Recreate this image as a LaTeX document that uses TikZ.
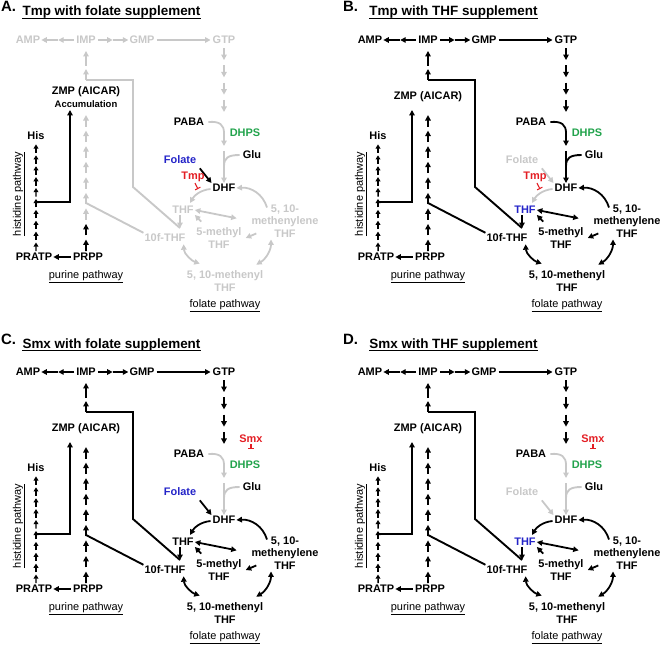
\documentclass[tikz,border=0pt]{standalone}
\usepackage{fontspec}
\setmainfont{Liberation Sans}
\usetikzlibrary{arrows.meta,calc}
\definecolor{cGrey}{HTML}{C8C8C8}
\definecolor{cBlue}{HTML}{2424C8}
\definecolor{cRed}{HTML}{E31E24}
\definecolor{cGreen}{HTML}{22A34C}
\tikzset{
  met/.style={font=\bfseries\fontsize{11}{12.5}\selectfont, inner sep=1pt, align=center},
  tag/.style={font=\fontsize{11}{12.5}\selectfont, inner sep=1pt},
  ttl/.style={font=\bfseries\fontsize{13.5}{15}\selectfont, inner sep=0pt, anchor=base},
  letter/.style={font=\bfseries\fontsize{15}{17}\selectfont, inner sep=0pt, anchor=base west},
  arr/.style={-{Triangle[length=5.5pt,width=5.5pt]}, line width=1.8pt},
  darr/.style={{Triangle[length=5.5pt,width=5.5pt]}-{Triangle[length=5.5pt,width=5.5pt]}, line width=1.8pt},
  harr/.style={-{Triangle[length=4.2pt,width=4.8pt]}, line width=1.5pt},
  link/.style={line width=1.9pt},
  inh/.style={-{Bar[width=6pt]}, line width=1.1pt, draw=cRed},
}
% one panel: #1 prefix, #2 letter, #3 title, #4 ZMP label
\newcommand{\pathpanel}[4]{%
  \node[letter] (#1-let) at (1,12) {#2.};
  \node[ttl] (#1-ttl) at (111.5,16) {#3};
  \draw[line width=1.1pt] ($(#1-ttl.base west)+(0,2.2)$) -- ($(#1-ttl.base east)+(0,2.2)$);
  % ---- purine / histidine nodes
  \node[met, text=cPur] (#1-amp) at (28,40) {AMP};
  \node[met, text=cPur] (#1-imp) at (86,40) {IMP};
  \node[met, text=cPur] (#1-gmp) at (142,40) {GMP};
  \node[met, text=cPur] (#1-gtp) at (224,40) {GTP};
  \node[met] (#1-zmp) at (86,97) {#4};
  \node[met] (#1-his) at (36,136) {His};
  \node[met] (#1-pratp) at (34,257) {PRATP};
  \node[met] (#1-prpp) at (88,257) {PRPP};
  \node[tag] (#1-purl) at (86,277) {\underline{purine pathway}};
  \node[tag, rotate=90] (#1-hisl) at (19,194) {\underline{histidine pathway}};
  % ---- folate nodes
  \node[met] (#1-paba) at (189,122) {PABA};
  \node[met, text=cGreen] (#1-dhps) at (245,133) {DHPS};
  \node[met] (#1-glu) at (252,155) {Glu};
  \node[met, text=cFolTxt] (#1-fol) at (180,160) {Folate};
  \node[met] (#1-dhf) at (224,188) {DHF};
  \node[met, text=cThf] (#1-thf) at (183,210) {THF};
  \node[met, text=cCyc] (#1-mthf) at (219,238) {5-methyl\\THF};
  \node[met, text=cCyc] (#1-mlthf) at (285,221) {5, 10-\\methenylene\\THF};
  \node[met, text=cCyc] (#1-fthf) at (165,238) {10f-THF};
  \node[met, text=cCyc] (#1-mnthf) at (225,281) {5, 10-methenyl\\THF};
  \node[tag] (#1-foll) at (225,306) {\underline{folate pathway}};
  % ---- purine row
  \coordinate (#1-ia) at ($(#1-imp.west)!.5!(#1-amp.east)$);
  \coordinate (#1-ig) at ($(#1-imp.east)!.5!(#1-gmp.west)$);
  \draw[arr, cPur, shorten <=1pt] (#1-imp.west) -- (#1-ia);
  \draw[arr, cPur] (#1-ia) -- (#1-amp.east);
  \draw[arr, cPur, shorten <=1pt] (#1-imp.east) -- (#1-ig);
  \draw[arr, cPur] (#1-ig) -- (#1-gmp.west);
  \draw[arr, cPur, shorten <=1pt, shorten >=1pt] (#1-gmp) -- (#1-gtp);
  % ---- purine column
  \coordinate (#1-jt) at (86,80);
  \draw[arr, cPur] (#1-jt) -- ++(0,-11);
  \draw[arr, cPur] ($(#1-jt)+(0,-14)$) -- ($(#1-imp.south)+(0,6)$);
  \coordinate (#1-pb) at (86,251);
  \coordinate (#1-pt) at (86,111);
  \foreach \k in {0,1}
    \draw[arr] ($(#1-pb)!{\k/9}!(#1-pt)$) -- ($(#1-pb)!{(\k+0.74)/9}!(#1-pt)$);
  \foreach \k in {2,...,8}
    \draw[arr, cPur] ($(#1-pb)!{\k/9}!(#1-pt)$) -- ($(#1-pb)!{(\k+0.74)/9}!(#1-pt)$);
  % ---- histidine column
  \coordinate (#1-hb) at (36,251);
  \coordinate (#1-ht) at (36,142);
  \foreach \k in {0,...,9}
    \draw[harr] ($(#1-hb)!{\k/10}!(#1-ht)$) -- ($(#1-hb)!{(\k+0.78)/10}!(#1-ht)$);
  \draw[arr, shorten <=1pt] (#1-prpp.west) -- (#1-pratp.east);
  \coordinate (#1-hj) at (36,202);
  \coordinate (#1-zb) at (70,110);
  \draw[arr] (#1-hj) -| (#1-zb);
  % ---- formyl links
  \coordinate (#1-ft) at (180,228);
  \draw[link, cPur] (#1-jt) -| (133,187) -- (#1-ft);
  \coordinate (#1-pj) at (86,203);
  \draw[link, cPur] (#1-fthf.north west) -- (#1-pj);
  % ---- GTP to DHF
  \foreach \k in {0,...,3}
    \draw[arr, cPur] ($(#1-gtp.south)+(0,3+17.3*\k)$) -- ++(0,12);
  \draw[arr, cDhps] ($(#1-paba.east)+(3,0)$) .. controls (220,121) and (224,125) .. (224,133) -- (224,146);
  \draw[arr, cDhps] (224,151) -- (#1-dhf.north);
  \draw[link, cDhps] ($(#1-glu.west)+(-2,0)$) .. controls (228,155) and (224,158) .. (224,166);
  \draw[arr, cFolArr, shorten <=4pt] (#1-fol.south east) -- (#1-dhf.north west);
  % ---- folate cycle
  \draw[arr, cDhfr] ($(#1-dhf.west)+(-1,1)$) .. controls (200,190) and (194,196) .. (190,203);
  \draw[arr, cCyc] ($(#1-mlthf.north)+(-18,4)$) .. controls (263,194) and (251,187) .. (#1-dhf.east);
  \draw[darr, cCyc, shorten >=14pt] (#1-thf.east) -- (#1-mlthf.west);
  \draw[arr, cCyc] ($(#1-mthf.north west)+(6,-5)$) -- (#1-thf.south east);
  \draw[arr, cCyc] ($(#1-mlthf.south west)+(6,-5)$) -- ($(#1-mthf.east)+(3,0)$);
  \draw[darr, cCyc] ($(#1-fthf.south east)+(-3,1)$) .. controls (184,254) and (192,261) .. ($(#1-mnthf.north west)+(14,-6)$);
  \draw[darr, cCyc] ($(#1-mnthf.north east)+(-8,-5)$) .. controls (266,259) and (271,250) .. ($(#1-mlthf.south)+(-14,1)$);
  \draw[arr, cCyc] (#1-thf.south -| #1-ft) -- (#1-ft);
}

\begin{document}
\begin{tikzpicture}[x=1bp, y=-1bp]
\useasboundingbox (0,0) rectangle (660,646);

% ========== A: Tmp + folate ==========
\begin{scope}
  \colorlet{cPur}{cGrey}\colorlet{cDhps}{cGrey}\colorlet{cFolTxt}{cBlue}
  \colorlet{cFolArr}{black}\colorlet{cDhfr}{cGrey}\colorlet{cCyc}{cGrey}\colorlet{cThf}{cGrey}
  \pathpanel{a}{A}{Tmp with folate supplement}
    {ZMP (AICAR)\\{\fontsize{9.5}{11}\selectfont Accumulation}}
  \node[met, text=cRed] (a-tmp) at (193,177) {Tmp};
  \draw[inh] ($(a-tmp.south)+(2,0)$) -- (198,189);
\end{scope}

% ========== B: Tmp + THF ==========
\begin{scope}[shift={(342,0)}]
  \colorlet{cPur}{black}\colorlet{cDhps}{black}\colorlet{cFolTxt}{cGrey}
  \colorlet{cFolArr}{cGrey}\colorlet{cDhfr}{cGrey}\colorlet{cCyc}{black}\colorlet{cThf}{cBlue}
  \pathpanel{b}{B}{Tmp with THF supplement}{ZMP (AICAR)}
  \node[met, text=cRed] (b-tmp) at (193,177) {Tmp};
  \draw[inh] ($(b-tmp.south)+(2,0)$) -- (198,189);
\end{scope}

% ========== C: Smx + folate ==========
\begin{scope}[shift={(0,332)}]
  \colorlet{cPur}{black}\colorlet{cDhps}{cGrey}\colorlet{cFolTxt}{cBlue}
  \colorlet{cFolArr}{black}\colorlet{cDhfr}{black}\colorlet{cCyc}{black}\colorlet{cThf}{black}
  \pathpanel{c}{C}{Smx with folate supplement}{ZMP (AICAR)}
  \node[met, text=cRed] (c-smx) at (251,107) {Smx};
  \draw[inh] (c-smx.south) -- ++(0,5);
\end{scope}

% ========== D: Smx + THF ==========
\begin{scope}[shift={(342,332)}]
  \colorlet{cPur}{black}\colorlet{cDhps}{cGrey}\colorlet{cFolTxt}{cGrey}
  \colorlet{cFolArr}{cGrey}\colorlet{cDhfr}{black}\colorlet{cCyc}{black}\colorlet{cThf}{cBlue}
  \pathpanel{d}{D}{Smx with THF supplement}{ZMP (AICAR)}
  \node[met, text=cRed] (d-smx) at (251,107) {Smx};
  \draw[inh] (d-smx.south) -- ++(0,5);
\end{scope}

\end{tikzpicture}
\end{document}
